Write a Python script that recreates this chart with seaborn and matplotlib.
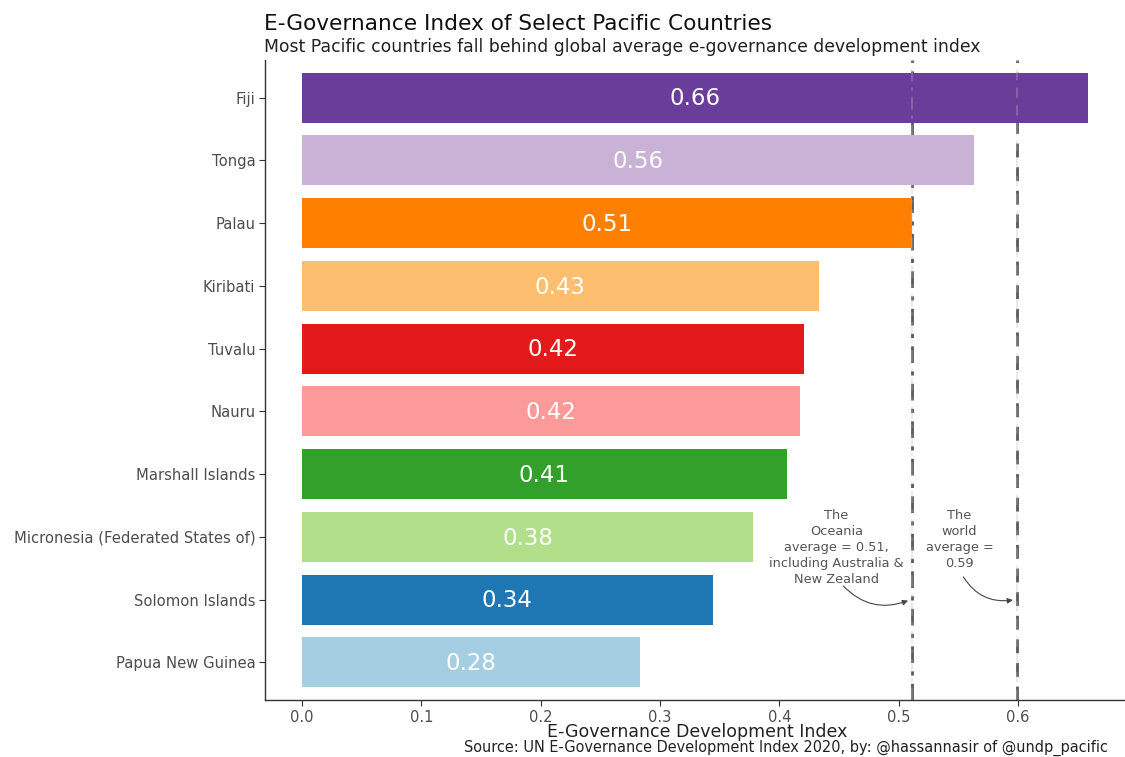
import matplotlib
matplotlib.use("Agg")
import matplotlib.pyplot as plt
import seaborn as sns
import pandas as pd

countries = ["Fiji", "Tonga", "Palau", "Kiribati", "Tuvalu", "Nauru",
             "Marshall Islands", "Micronesia (Federated States of)",
             "Solomon Islands", "Papua New Guinea"]
egdi = [0.659, 0.563, 0.511, 0.433, 0.421, 0.417, 0.406, 0.378, 0.344, 0.283]
colors = ["#6A3D9A", "#CAB2D6", "#FF7F00", "#FDBF6F", "#E31A1C",
          "#FB9A99", "#33A02C", "#B2DF8A", "#1F78B4", "#A6CEE3"]
oceania_avg = 0.511
world_avg = 0.599
x_ticks = [0.0, 0.1, 0.2, 0.3, 0.4, 0.5, 0.6]

title = "E-Governance Index of Select Pacific Countries"
subtitle = "Most Pacific countries fall behind global average e-governance development index"
xlabel = "E-Governance Development Index"
caption = "Source: UN E-Governance Development Index 2020, by: @hassannasir of @undp_pacific"
oceania_note = "The\nOceania\naverage = 0.51,\nincluding Australia &\nNew Zealand"
world_note = "The\nworld\naverage =\n0.59"

sns.set_theme(style="white")
plt.rcParams["font.family"] = ["DejaVu Sans"]

df = pd.DataFrame({"country": countries, "egdi": egdi})

W, H = 1125, 757
fig = plt.figure(figsize=(W / 100, H / 100), dpi=100)
ax = fig.add_axes([265 / W, (H - 700) / H, 864 / W, 640 / H])

line_col = "#5A5A5A"
oce_ls = (0, (6, 3, 1.5, 3))
wld_ls = (0, (5, 3.5))
ax.axvline(oceania_avg, color=line_col, lw=2, ls=oce_ls, zorder=0.5)
ax.axvline(world_avg, color=line_col, lw=2, ls=wld_ls, zorder=0.5)

sns.barplot(data=df, y="country", x="egdi", hue="country", palette=colors,
            order=countries, hue_order=countries, dodge=False, legend=False,
            width=0.8, saturation=1, linewidth=0, ax=ax, zorder=1)

# faint show-through of the reference lines over the bars
ax.axvline(oceania_avg, color="#BBBBBB", lw=1.5, ls=oce_ls, alpha=0.3, zorder=2)
ax.axvline(world_avg, color="#BBBBBB", lw=1.5, ls=wld_ls, alpha=0.3, zorder=2)

for i, v in enumerate(egdi):
    ax.text(v / 2, i + 0.02, f"{v:.2f}", color="white", fontsize=16.5,
            ha="center", va="center", zorder=3)

ax.set_xlim(-0.031, 0.693)
ax.set_ylim(len(countries) - 0.4, -0.6)
ax.set_xticks(x_ticks)
ax.set_xticklabels([f"{t:.1f}" for t in x_ticks])
ax.set_xlabel(xlabel, fontsize=12.5, color="#222222", labelpad=-1.5)
ax.set_ylabel("")
ax.tick_params(axis="both", which="both", length=4, width=0.8, color="#333333",
               labelcolor="#4D4D4D", labelsize=10.6, direction="out", pad=3)
ax.tick_params(axis="x", bottom=True)
ax.tick_params(axis="y", left=True)
for s in ["top", "right"]:
    ax.spines[s].set_visible(False)
for s in ["left", "bottom"]:
    ax.spines[s].set_color("#333333")
    ax.spines[s].set_linewidth(1.0)

ax.text(0.448, 6.55, oceania_note, ha="center", va="top", fontsize=9.3,
        color="#555555", linespacing=1.3)
ax.text(0.551, 6.55, world_note, ha="center", va="top", fontsize=9.3,
        color="#555555", linespacing=1.3)

ax.annotate("", xy=(oceania_avg - 0.001, 8.0), xytext=(0.452, 7.75),
            arrowprops=dict(arrowstyle="-|>", color="#444444", lw=0.8,
                            connectionstyle="arc3,rad=0.35", mutation_scale=8))
ax.annotate("", xy=(world_avg - 0.001, 8.0), xytext=(0.553, 7.6),
            arrowprops=dict(arrowstyle="-|>", color="#444444", lw=0.8,
                            connectionstyle="arc3,rad=0.35", mutation_scale=8))

fig.text(264 / W, 1 - 30 / H, title, fontsize=15.6, color="#111111",
         ha="left", va="baseline")
fig.text(264 / W, 1 - 52 / H, subtitle, fontsize=12.4, color="#222222",
         ha="left", va="baseline")
fig.text(464 / W, 1 - 752 / H, caption, fontsize=10.45, color="#222222",
         ha="left", va="baseline")

fig.savefig("out.png", dpi=100)
